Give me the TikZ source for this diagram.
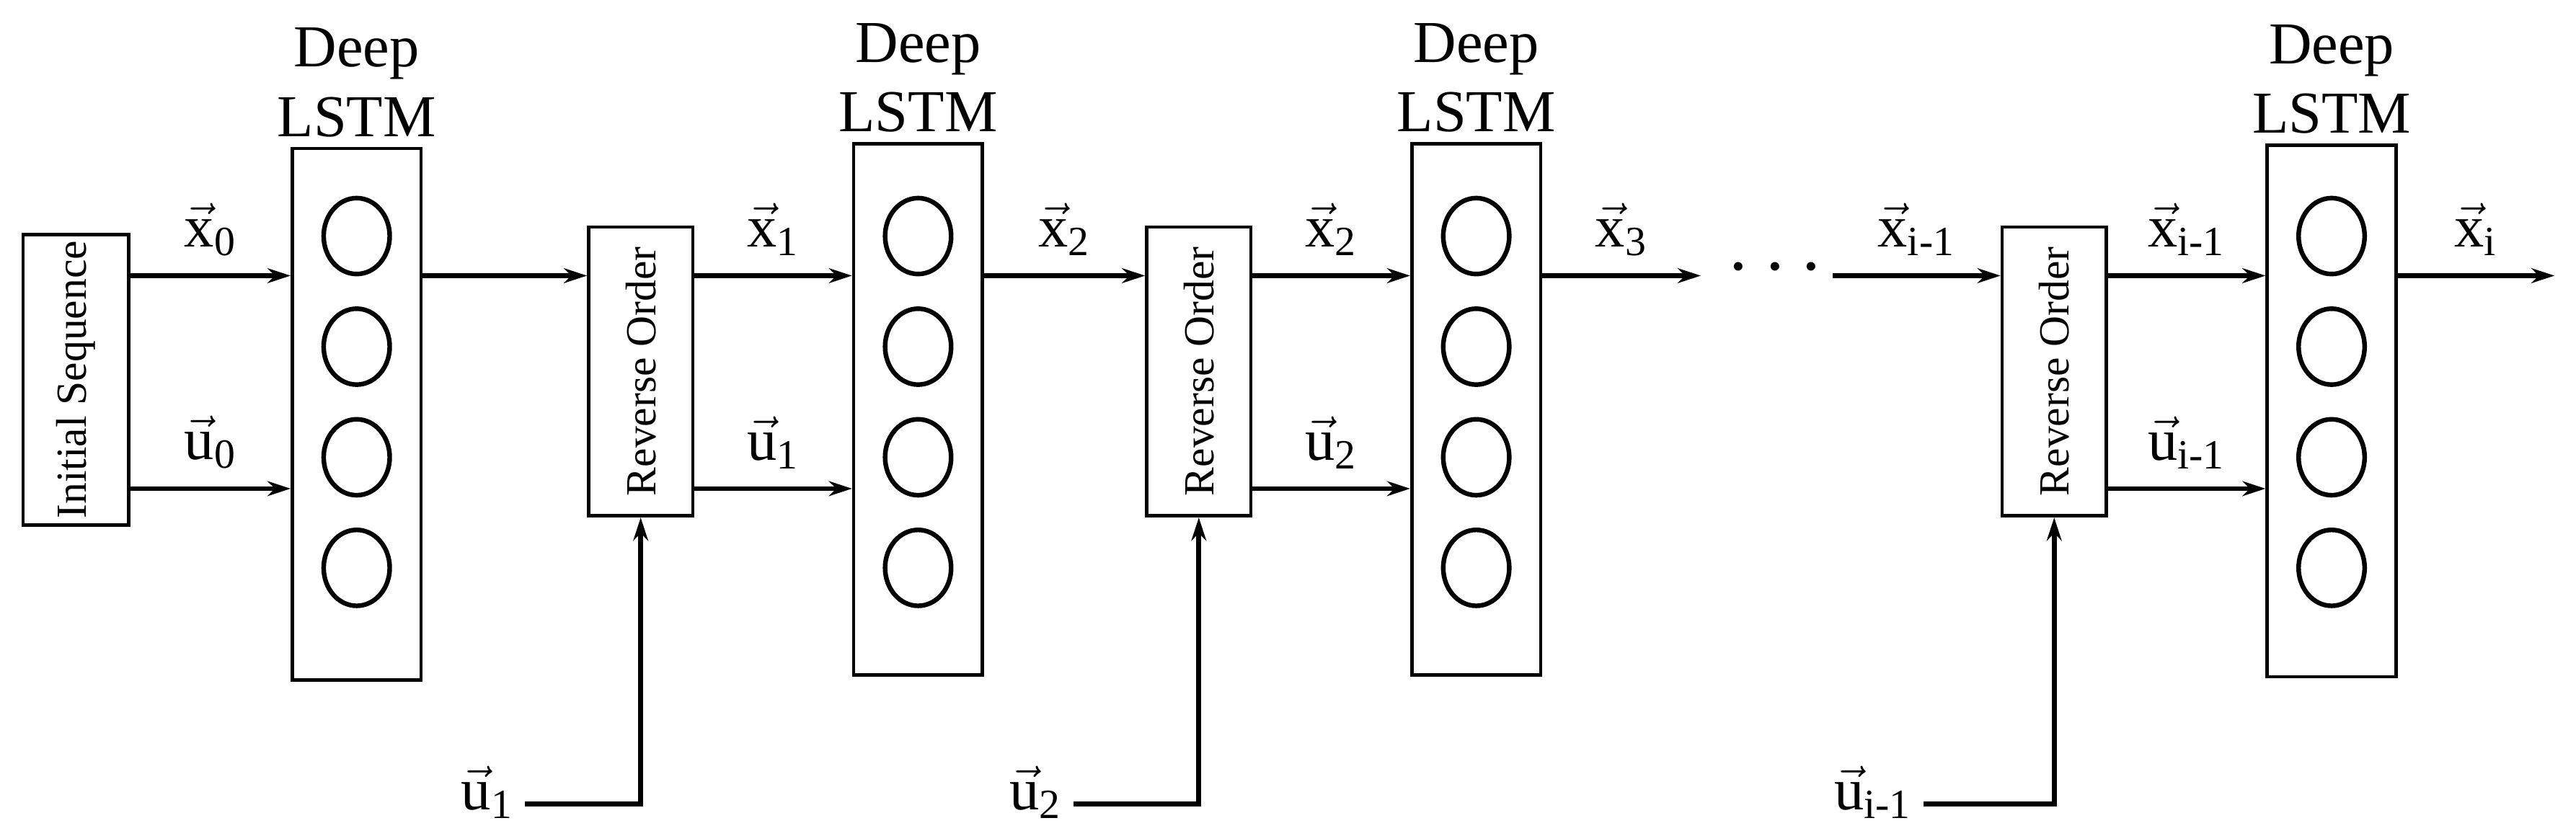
\documentclass[tikz,border=0pt]{standalone}
\usepackage{fontspec}
\setmainfont{Liberation Serif}
\usetikzlibrary{arrows.meta,shapes.geometric}
\newcommand{\vx}{\(\vec{\mathrm{x}}\)}
\newcommand{\vu}{\(\vec{\mathrm{u}}\)}
\begin{document}
\begin{tikzpicture}[x=0.5pt,y=-0.5pt,
  box/.style={draw,line width=1pt,inner sep=0pt},
  lstm/.style={box,minimum width=39pt,minimum height=161pt},
  rev/.style={box,minimum width=31.5pt,minimum height=87.5pt},
  cell/.style={draw,line width=1.4pt,ellipse,minimum width=20pt,minimum height=23pt,inner sep=0pt},
  arr/.style={line width=1.5pt,-{Stealth[length=7pt,width=4.5pt]}},
  lab/.style={font=\fontsize{18}{20}\selectfont},
  small/.style={font=\fontsize{13}{15}\selectfont},
  ttl/.style={font=\fontsize{18}{21}\selectfont,align=center}]
\useasboundingbox (0,0) rectangle (1560,503);
\node[box,minimum width=32pt,minimum height=88pt] (init) at (46,230) {};
\node[small,rotate=90] at (init.center) {Initial Sequence};
\foreach \n/\x/\yt/\yb in {L1/216/90/412,L2/556/87/409,L3/894/87/409,L4/1412/88/410}{
  \node[lstm] (\n) at (\x,{(\yt+\yb)/2}) {};
  \node[ttl,anchor=south] (\n t) at (\x,\yt) {Deep\\LSTM};
  \foreach \k/\cy in {1/143,2/210,3/277,4/344}{
    \node[cell] (\n c\k) at (\x,\cy) {};
  }
}
\foreach \n/\x in {R1/388,R2/726,R3/1244}{
  \node[rev] (\n) at (\x,225) {};
  \node[small,rotate=90] at (\n.center) {Reverse Order};
}
\draw[arr] (init.east|-0,167) -- (L1.west|-0,167) node[lab,midway,above=2pt] {\vx\textsubscript{0}};
\draw[arr] (init.east|-0,296) -- (L1.west|-0,296) node[lab,midway,above=2pt] {\vu\textsubscript{0}};
\draw[arr] (L1.east|-0,167) -- (R1.west|-0,167);
\draw[arr] (R1.east|-0,167) -- (L2.west|-0,167) node[lab,midway,above=2pt] {\vx\textsubscript{1}};
\draw[arr] (R1.east|-0,296) -- (L2.west|-0,296) node[lab,midway,above=2pt] {\vu\textsubscript{1}};
\draw[arr] (L2.east|-0,167) -- (R2.west|-0,167) node[lab,midway,above=2pt] {\vx\textsubscript{2}};
\draw[arr] (R2.east|-0,167) -- (L3.west|-0,167) node[lab,midway,above=2pt] {\vx\textsubscript{2}};
\draw[arr] (R2.east|-0,296) -- (L3.west|-0,296) node[lab,midway,above=2pt] {\vu\textsubscript{2}};
\coordinate (x3e) at (1030,167);
\draw[arr] (L3.east|-0,167) -- (x3e) node[lab,midway,above=2pt] {\vx\textsubscript{3}};
\node[font=\fontsize{26}{26}\selectfont] (dots) at (1075,163) {\textbf{$\cdots$}};
\coordinate (xis) at (1110,167);
\draw[arr] (xis) -- (R3.west|-0,167) node[lab,midway,above=2pt] {\vx\textsubscript{i-1}};
\draw[arr] (R3.east|-0,167) -- (L4.west|-0,167) node[lab,midway,above=2pt] {\vx\textsubscript{i-1}};
\draw[arr] (R3.east|-0,296) -- (L4.west|-0,296) node[lab,midway,above=2pt] {\vu\textsubscript{i-1}};
\coordinate (xie) at (1547,167);
\draw[arr] (L4.east|-0,167) -- (xie) node[lab,midway,above=2pt] {\vx\textsubscript{i}};
\foreach \n/\sx/\sub in {R1/318/1,R2/650/2,R3/1165/i-1}{
  \node[lab,anchor=east] (\n in) at (\sx,480) {\vu\textsubscript{\sub}};
  \draw[arr] (\n in.east|-0,487) -| (\n.south);
}
\end{tikzpicture}
\end{document}
